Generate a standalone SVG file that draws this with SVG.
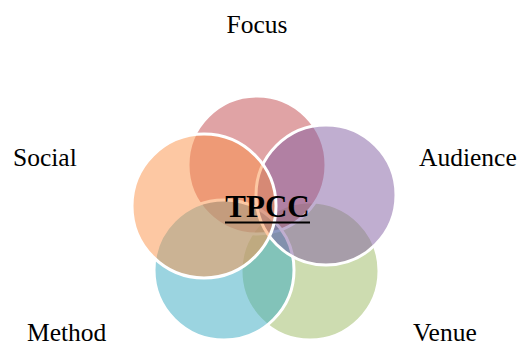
<svg xmlns="http://www.w3.org/2000/svg" width="522" height="346" viewBox="0 0 522 346">
<style>
.c{stroke:#ffffff;stroke-width:3}
.lbl{font-family:"Liberation Serif","Times New Roman",serif;font-size:25.5px;fill:#000}
.title{font-family:"Liberation Serif","Times New Roman",serif;font-size:31px;font-weight:bold;fill:#000}
</style>
<rect width="522" height="346" fill="#ffffff"/>
<g id="venue"><circle class="c" cx="310" cy="271" r="69" fill="rgb(155,185,97)" fill-opacity="0.5"/></g>
<g id="focus"><circle class="c" cx="257" cy="165" r="69" fill="rgb(193,71,75)" fill-opacity="0.5"/></g>
<g id="method"><circle class="c" cx="224" cy="270" r="70" fill="rgb(55,169,193)" fill-opacity="0.5"/></g>
<g id="audience"><circle class="c" cx="326" cy="195" r="70" fill="rgb(129,93,161)" fill-opacity="0.5"/></g>
<g id="social"><circle class="c" cx="204" cy="206" r="72" fill="rgb(251,145,71)" fill-opacity="0.5"/></g>
<g id="labels">
<text class="lbl" x="257" y="33" text-anchor="middle">Focus</text>
<text class="lbl" x="13" y="165.5">Social</text>
<text class="lbl" x="419" y="165.5">Audience</text>
<text class="lbl" x="27" y="341">Method</text>
<text class="lbl" x="413" y="341">Venue</text>
</g>
<g id="tpcc">
<text class="title" x="267.5" y="216.5" text-anchor="middle">TPCC</text>
<rect x="225" y="221.5" width="85" height="2" fill="#000"/>
</g>
</svg>
